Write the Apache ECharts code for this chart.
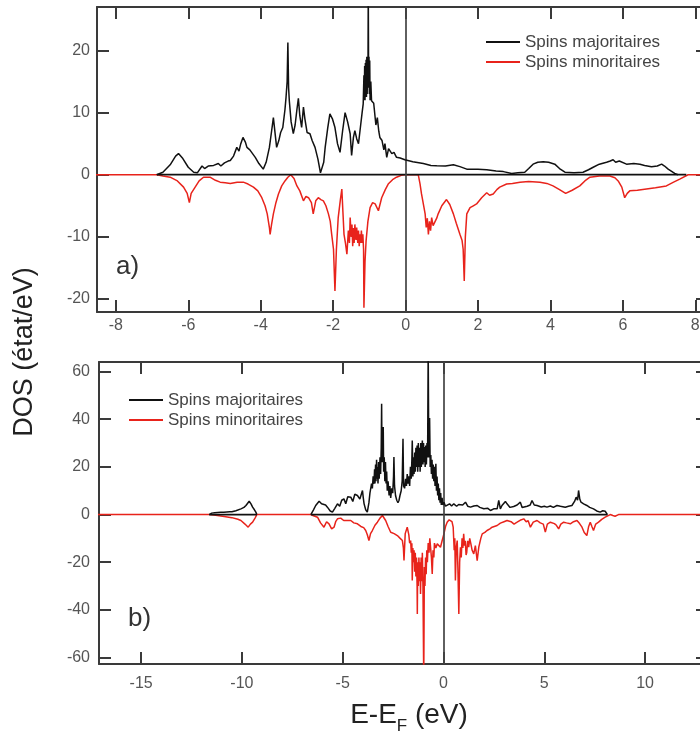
<!DOCTYPE html>
<html>
<head>
<meta charset="utf-8">
<script src="https://cdn.jsdelivr.net/npm/echarts@6/dist/echarts.min.js"></script>
<style>html,body{margin:0;padding:0;background:#fff}#c{width:700px;height:736px}</style>
</head>
<body>
<div id="c"></div>
<script>
// ---- data (energy E-EF in eV, DOS in states/eV) ----
const seriesNames = ['Spins majoritaires', 'Spins minoritaires'];
const panelLabels = ['a)', 'b)'];
const yTitle = 'DOS (état/eV)';

// panel a ticks / ranges
const xTicksA = [-8, -6, -4, -2, 0, 2, 4, 6, 8];
const yTicksA = [-20, -10, 0, 10, 20];
const xRangeA = [-8.52, 8.35];
const yRangeA = [-22.1, 27.0];
// panel b ticks / ranges
const xTicksB = [-15, -10, -5, 0, 5, 10];
const yTicksB = [-60, -40, -20, 0, 20, 40, 60];
const xRangeB = [-17.09, 13.12];
const yRangeB = [-62.7, 64.0];

// zero-level baseline of the majority curve
const baseA = [[-6.87, 7.75]];
const baseB = [[-11.62, -9.26], [-6.58, 8.13]];

const majA = [[-6.87,0],[-6.7,0.4],[-6.5,1.6],[-6.35,3.0],[-6.27,3.4],[-6.15,2.6],[-6.0,1.2],[-5.85,0.4],[-5.75,0.3],[-5.62,1.4],[-5.55,1.0],[-5.45,1.4],[-5.3,1.5],[-5.17,1.8],[-5.1,1.4],[-5.0,1.9],[-4.9,2.2],[-4.84,2.3],[-4.75,3.0],[-4.66,4.4],[-4.6,3.8],[-4.55,5.0],[-4.49,6.0],[-4.42,5.2],[-4.38,4.4],[-4.3,4.0],[-4.15,2.8],[-4.05,1.8],[-3.93,0.9],[-3.85,2.0],[-3.76,4.4],[-3.7,7.0],[-3.65,9.2],[-3.6,6.5],[-3.56,4.4],[-3.5,5.5],[-3.45,6.8],[-3.39,7.6],[-3.33,10.5],[-3.30,12.5],[-3.27,15.0],[-3.25,21.3],[-3.23,14.0],[-3.21,11.9],[-3.16,8.5],[-3.10,6.6],[-3.05,8.0],[-3.0,10.5],[-2.96,12.3],[-2.92,9.5],[-2.87,7.6],[-2.82,10.9],[-2.78,9.0],[-2.72,6.8],[-2.64,6.6],[-2.58,5.5],[-2.50,4.4],[-2.42,2.5],[-2.35,0.3],[-2.31,0.1],[-2.26,2.0],[-2.22,4.4],[-2.15,7.5],[-2.09,9.8],[-2.02,9.0],[-1.95,7.6],[-1.88,5.0],[-1.81,3.6],[-1.74,7.0],[-1.67,10.0],[-1.60,8.5],[-1.53,6.6],[-1.49,3.1],[-1.44,6.0],[-1.40,7.1],[-1.35,5.8],[-1.30,5.0],[-1.24,8.0],[-1.20,10.0],[-1.17,11.4],[-1.15,16.0],[-1.14,12.0],[-1.13,17.5],[-1.12,12.0],[-1.11,18.0],[-1.10,13.0],[-1.09,18.5],[-1.08,12.5],[-1.07,19.0],[-1.06,13.0],[-1.05,18.0],[-1.04,14.0],[-1.03,30],[-1.02,14.0],[-1.01,19.0],[-1.0,13.0],[-0.99,18.4],[-0.98,12.0],[-0.96,15.0],[-0.94,11.9],[-0.88,11.5],[-0.82,8.0],[-0.78,9.2],[-0.74,7.0],[-0.71,6.0],[-0.65,5.5],[-0.6,4.0],[-0.57,5.0],[-0.52,2.8],[-0.47,4.2],[-0.43,4.1],[-0.38,3.4],[-0.32,3.6],[-0.25,2.8],[-0.15,2.7],[-0.02,2.4],[0.2,2.1],[0.49,1.8],[0.7,1.5],[0.86,1.45],[1.1,1.4],[1.32,1.6],[1.5,1.3],[1.69,0.9],[2.0,0.9],[2.24,0.8],[2.5,0.6],[2.70,0.5],[2.93,0.2],[3.1,0.3],[3.29,0.4],[3.4,1.0],[3.52,1.7],[3.65,2.0],[3.80,2.1],[3.95,2.0],[4.12,1.7],[4.25,1.0],[4.40,0.4],[4.65,0.3],[4.90,0.4],[5.05,0.8],[5.18,1.2],[5.35,1.7],[5.55,2.0],[5.65,2.2],[5.73,2.4],[5.8,2.0],[5.9,2.2],[6.10,1.7],[6.3,1.8],[6.47,1.7],[6.6,1.5],[6.79,1.3],[6.95,1.4],[7.07,1.7],[7.15,1.4],[7.25,0.9],[7.43,0.2],[7.52,0]];

const minA = [[-8.6,0],[-6.87,0],[-6.7,-0.2],[-6.50,-0.4],[-6.3,-1.0],[-6.13,-2.0],[-6.03,-3.0],[-5.97,-4.5],[-5.92,-3.0],[-5.81,-2.0],[-5.7,-1.0],[-5.58,-0.4],[-5.40,-0.4],[-5.25,-0.9],[-5.12,-1.2],[-4.98,-1.3],[-4.84,-1.4],[-4.65,-1.2],[-4.48,-1.2],[-4.35,-1.5],[-4.20,-2.0],[-4.08,-2.6],[-3.97,-3.7],[-3.88,-5.0],[-3.82,-6.3],[-3.76,-8.5],[-3.74,-9.6],[-3.70,-8.0],[-3.65,-6.3],[-3.58,-4.5],[-3.51,-3.1],[-3.42,-1.8],[-3.33,-1.0],[-3.25,-0.4],[-3.17,0],[-3.08,-0.6],[-3.00,-1.8],[-2.92,-2.6],[-2.82,-4.2],[-2.75,-3.5],[-2.68,-3.7],[-2.60,-4.5],[-2.55,-6.3],[-2.48,-4.2],[-2.41,-3.7],[-2.34,-4.0],[-2.27,-4.2],[-2.20,-5.0],[-2.13,-6.3],[-2.08,-7.5],[-2.04,-9.6],[-1.99,-12.0],[-1.95,-18.7],[-1.91,-12.0],[-1.86,-6.9],[-1.80,-4.0],[-1.76,-2.3],[-1.73,-6.0],[-1.70,-9.6],[-1.66,-11.0],[-1.62,-12.8],[-1.58,-9.0],[-1.55,-11.0],[-1.53,-6.9],[-1.50,-10.0],[-1.48,-8.0],[-1.46,-11.5],[-1.44,-8.6],[-1.42,-11.0],[-1.40,-8.0],[-1.37,-10.5],[-1.35,-8.5],[-1.32,-11.0],[-1.30,-9.0],[-1.28,-11.5],[-1.26,-9.6],[-1.24,-11.0],[-1.22,-9.0],[-1.20,-11.0],[-1.18,-9.6],[-1.16,-12.0],[-1.15,-21.4],[-1.12,-14.0],[-1.09,-10.6],[-1.04,-7.5],[-0.98,-5.3],[-0.91,-4.5],[-0.84,-4.7],[-0.75,-5.8],[-0.66,-3.7],[-0.56,-2.4],[-0.48,-1.5],[-0.36,-0.8],[-0.25,-0.4],[-0.12,-0.1],[-0.02,0],[0.35,0],[0.40,-1.5],[0.44,-3.1],[0.50,-5.0],[0.54,-6.3],[0.57,-8.5],[0.60,-7.0],[0.63,-9.6],[0.66,-7.5],[0.69,-9.0],[0.72,-6.9],[0.76,-8.2],[0.81,-8.5],[0.86,-7.0],[0.90,-6.3],[1.0,-5.0],[1.13,-4.0],[1.22,-4.8],[1.32,-6.3],[1.40,-7.8],[1.50,-9.6],[1.56,-10.6],[1.59,-12.0],[1.62,-17.1],[1.65,-10.0],[1.69,-6.3],[1.78,-5.3],[1.87,-5.0],[1.96,-4.7],[2.10,-3.7],[2.24,-2.9],[2.32,-3.3],[2.42,-3.1],[2.52,-2.4],[2.60,-2.0],[2.79,-1.5],[2.95,-1.4],[3.16,-1.2],[3.4,-1.1],[3.71,-1.2],[3.9,-1.4],[4.07,-1.8],[4.25,-2.4],[4.42,-3.0],[4.6,-2.5],[4.81,-1.8],[4.95,-1.0],[5.09,-0.4],[5.35,-0.2],[5.64,-0.2],[5.78,-0.5],[5.87,-1.0],[5.97,-2.0],[6.05,-3.7],[6.12,-3.0],[6.19,-2.6],[6.4,-2.5],[6.65,-2.3],[6.9,-2.1],[7.20,-1.8],[7.4,-1.2],[7.57,-0.7],[7.80,0],[8.6,0]];

const majBlow = [[-11.62,0],[-11.5,0.6],[-11.45,-0.2],[-11.35,0.8],[-11.3,0],[-11.2,0.9],[-11.15,0.1],[-11.05,1.0],[-11.0,0.2],[-10.9,1.0],[-10.85,0.3],[-10.75,1.1],[-10.7,0.4],[-10.6,1.2],[-10.5,1.2],[-10.3,1.6],[-10.05,2.4],[-9.9,3.0],[-9.80,3.8],[-9.72,4.5],[-9.64,5.6],[-9.55,4.5],[-9.47,3.1],[-9.38,2.0],[-9.31,1.0],[-9.26,0]];

const majB = [[-6.58,0],[-6.45,2.0],[-6.34,3.8],[-6.17,5.6],[-6.05,4.5],[-5.96,5.2],[-5.85,4.0],[-5.76,3.1],[-5.62,1.5],[-5.51,1.0],[-5.40,2.5],[-5.26,4.5],[-5.15,3.5],[-5.05,6.0],[-4.94,6.6],[-4.85,4.5],[-4.75,7.5],[-4.60,7.3],[-4.50,5.5],[-4.40,8.5],[-4.27,8.0],[-4.15,6.5],[-4.02,10.1],[-3.98,7.0],[-3.94,4.5],[-3.86,2.0],[-3.78,1.0],[-3.70,5.0],[-3.65,9.0],[-3.61,8.7],[-3.57,13.0],[-3.53,11.0],[-3.49,16.0],[-3.45,12.9],[-3.42,19.0],[-3.40,13.0],[-3.37,21.0],[-3.35,14.0],[-3.32,23.0],[-3.30,15.0],[-3.28,19.9],[-3.25,13.0],[-3.22,22.0],[-3.19,15.0],[-3.15,24.0],[-3.12,17.0],[-3.09,28.0],[-3.07,46.5],[-3.05,22.0],[-3.02,30.0],[-2.99,36.7],[-2.97,18.0],[-2.94,24.0],[-2.91,14.0],[-2.88,22.0],[-2.85,13.0],[-2.82,18.0],[-2.79,10.0],[-2.75,14.0],[-2.70,8.0],[-2.66,12.0],[-2.62,7.0],[-2.57,11.0],[-2.52,9.0],[-2.48,16.0],[-2.46,24.1],[-2.43,12.0],[-2.38,8.0],[-2.32,6.0],[-2.26,5.0],[-2.21,5.9],[-2.16,8.0],[-2.10,10.0],[-2.05,14.0],[-2.01,31.8],[-1.98,12.0],[-1.93,11.0],[-1.88,15.0],[-1.84,12.0],[-1.80,17.0],[-1.76,13.0],[-1.72,16.0],[-1.68,12.0],[-1.64,20.0],[-1.60,15.0],[-1.57,23.0],[-1.55,31.1],[-1.52,16.0],[-1.49,24.0],[-1.46,17.0],[-1.43,26.0],[-1.40,18.0],[-1.37,28.0],[-1.34,20.0],[-1.31,29.0],[-1.28,18.0],[-1.25,30.0],[-1.22,20.0],[-1.19,28.0],[-1.16,18.0],[-1.13,30.0],[-1.10,20.0],[-1.07,28.0],[-1.05,31.1],[-1.02,21.0],[-0.99,30.0],[-0.96,22.0],[-0.94,28.3],[-0.91,20.0],[-0.88,29.0],[-0.85,21.0],[-0.82,30.0],[-0.79,24.0],[-0.76,70],[-0.73,24.0],[-0.71,28.0],[-0.69,40.5],[-0.66,20.0],[-0.63,25.0],[-0.60,17.0],[-0.57,23.0],[-0.54,15.0],[-0.51,21.0],[-0.48,14.0],[-0.45,20.0],[-0.42,12.0],[-0.38,21.3],[-0.35,10.0],[-0.32,16.0],[-0.29,8.0],[-0.26,13.0],[-0.23,6.0],[-0.20,11.0],[-0.17,5.0],[-0.14,9.0],[-0.11,4.0],[-0.07,7.0],[-0.03,4.0],[0.02,5.2],[0.10,3.5],[0.18,3.8],[0.30,4.5],[0.40,3.6],[0.51,4.5],[0.65,3.5],[0.75,4.2],[0.84,3.8],[0.95,4.0],[1.09,5.2],[1.2,3.5],[1.34,3.1],[1.5,3.6],[1.67,3.8],[1.8,3.0],[2.00,2.4],[2.2,2.6],[2.33,1.7],[2.49,2.4],[2.66,2.4],[2.74,5.9],[2.82,2.4],[2.90,3.8],[2.99,3.1],[3.07,5.5],[3.15,4.5],[3.3,3.0],[3.48,3.4],[3.65,4.0],[3.81,5.2],[3.90,3.0],[3.98,2.4],[4.15,3.5],[4.30,4.0],[4.39,5.9],[4.50,4.0],[4.64,3.8],[4.85,3.2],[5.0,3.5],[5.13,3.1],[5.3,3.6],[5.45,3.0],[5.63,3.8],[5.8,3.5],[6.04,3.1],[6.2,3.5],[6.37,3.8],[6.50,5.5],[6.58,7.3],[6.65,6.0],[6.70,10.1],[6.76,6.5],[6.82,5.2],[6.95,4.5],[7.11,3.8],[7.25,3.0],[7.44,2.4],[7.6,1.5],[7.77,1.0],[7.9,1.6],[8.02,1.4],[8.13,0]];

const minB = [[-17.2,0],[-11.62,0],[-11.3,-0.3],[-10.88,-0.8],[-10.5,-1.3],[-10.2,-2.0],[-10.05,-2.5],[-9.85,-4.0],[-9.69,-5.3],[-9.58,-4.0],[-9.47,-3.2],[-9.35,-1.5],[-9.26,0],[-6.58,0],[-6.45,-0.5],[-6.25,-1.1],[-6.1,-3.5],[-5.93,-5.3],[-5.80,-3.0],[-5.68,-3.9],[-5.55,-6.0],[-5.43,-5.3],[-5.35,-3.0],[-5.26,-1.8],[-5.1,-1.5],[-4.95,-2.5],[-4.77,-2.5],[-4.6,-2.5],[-4.45,-3.5],[-4.27,-3.9],[-4.1,-5.0],[-3.96,-5.5],[-3.86,-6.7],[-3.78,-8.5],[-3.70,-10.9],[-3.62,-8.0],[-3.53,-6.7],[-3.40,-4.5],[-3.28,-3.2],[-3.15,-1.5],[-3.03,-0.4],[-2.95,-1.0],[-2.87,-2.5],[-2.75,-5.0],[-2.62,-7.4],[-2.45,-8.0],[-2.29,-8.8],[-2.15,-10.0],[-2.04,-10.9],[-1.99,-14.0],[-1.96,-19.3],[-1.90,-8.0],[-1.80,-5.3],[-1.72,-8.5],[-1.68,-12.0],[-1.63,-10.9],[-1.60,-16.0],[-1.57,-12.0],[-1.55,-27.7],[-1.52,-14.0],[-1.49,-20.0],[-1.46,-15.0],[-1.43,-24.0],[-1.40,-16.0],[-1.37,-26.0],[-1.34,-18.0],[-1.31,-30.0],[-1.30,-41.7],[-1.28,-20.0],[-1.25,-30.0],[-1.22,-18.0],[-1.19,-28.0],[-1.16,-20.0],[-1.14,-33.3],[-1.11,-18.0],[-1.08,-28.0],[-1.05,-16.0],[-1.02,-30.0],[-0.98,-70],[-0.95,-22.0],[-0.92,-30.0],[-0.89,-18.0],[-0.86,-25.0],[-0.83,-15.0],[-0.80,-20.0],[-0.76,-12.0],[-0.72,-16.0],[-0.68,-10.0],[-0.64,-14.0],[-0.60,-18.0],[-0.56,-24.9],[-0.52,-15.0],[-0.48,-18.0],[-0.45,-12.0],[-0.38,-14.0],[-0.31,-12.3],[-0.22,-12.8],[-0.15,-13.7],[-0.07,-11.0],[0.02,-8.1],[0.10,-5.0],[0.18,-3.2],[0.28,-2.2],[0.35,-1.8],[0.42,-3.0],[0.48,-5.3],[0.53,-15.0],[0.56,-10.0],[0.59,-27.7],[0.63,-14.0],[0.68,-10.9],[0.72,-25.0],[0.76,-41.7],[0.80,-20.0],[0.84,-13.7],[0.88,-18.0],[0.92,-10.0],[0.96,-14.0],[1.00,-8.1],[1.04,-13.0],[1.08,-11.0],[1.12,-17.0],[1.15,-16.0],[1.20,-11.0],[1.25,-13.7],[1.30,-10.0],[1.35,-12.0],[1.42,-15.0],[1.50,-16.5],[1.58,-13.0],[1.67,-19.3],[1.75,-13.7],[1.85,-10.0],[1.92,-8.1],[2.05,-7.5],[2.16,-6.7],[2.30,-6.0],[2.41,-5.3],[2.49,-5.3],[2.66,-4.6],[2.82,-3.6],[3.0,-3.0],[3.15,-2.5],[3.35,-3.0],[3.5,-4.0],[3.65,-3.2],[3.80,-2.4],[3.98,-1.8],[4.1,-3.0],[4.2,-2.6],[4.31,-5.3],[4.45,-3.2],[4.64,-2.5],[4.8,-3.5],[4.95,-4.0],[5.05,-7.4],[5.15,-4.0],[5.30,-3.2],[5.5,-3.8],[5.6,-4.5],[5.71,-6.0],[5.82,-4.0],[5.96,-3.2],[6.1,-3.5],[6.29,-3.9],[6.45,-3.0],[6.62,-2.5],[6.75,-3.8],[6.87,-5.3],[6.98,-7.5],[7.05,-8.0],[7.11,-8.8],[7.20,-5.0],[7.28,-3.2],[7.36,-5.0],[7.44,-6.7],[7.55,-4.0],[7.69,-3.2],[7.85,-2.0],[8.02,-1.1],[8.27,0],[8.40,-0.4],[8.51,-0.7],[8.60,-0.3],[8.68,0],[13.3,0]];

// ---- chart ----
const FONT = 'Liberation Sans, Arial, sans-serif';
const BLACK = '#111111';
const RED = '#e8231b';
const AXIS = '#3a3a3a';

function makeAxis(grid, range, ticks, pos, labels, margin) {
  return {
    type: 'value', gridIndex: grid, position: pos, min: range[0], max: range[1],
    splitLine: {show: false},
    axisLine: {show: true, onZero: false, lineStyle: {color: AXIS, width: 2}},
    axisTick: {show: true, inside: true, length: 12, customValues: ticks, lineStyle: {color: AXIS, width: 2}},
    axisLabel: {show: labels, customValues: ticks, margin: margin, fontSize: 16, color: '#555', fontFamily: FONT}
  };
}
function lineSeries(name, data, color, xi, yi, z) {
  return {
    type: 'line', name: name, data: data, xAxisIndex: xi, yAxisIndex: yi,
    showSymbol: false, symbol: 'none', z: z, clip: true, silent: true,
    lineStyle: {color: color, width: 1.5}, itemStyle: {color: color}
  };
}
function baseSeries(segs, xi, yi) {
  const out = [];
  segs.forEach(function (s, i) {
    const ser = lineSeries('', [[s[0], 0], [s[1], 0]], BLACK, xi, yi, 4);
    ser.lineStyle.width = 1.7;
    if (i === 0) {
      ser.markLine = {
        silent: true, symbol: 'none', label: {show: false}, animation: false,
        lineStyle: {color: '#444', width: 1.7, type: 'solid'},
        data: [{xAxis: 0}]
      };
    }
    out.push(ser);
  });
  return out;
}

const chart = echarts.init(document.getElementById('c'), null, {renderer: 'canvas'});
const legendCommon = {
  orient: 'vertical', icon: 'rect', itemWidth: 34, itemHeight: 2, itemGap: 2,
  selectedMode: false, data: seriesNames,
  textStyle: {fontSize: 17, lineHeight: 18, color: '#444', fontFamily: FONT}
};
chart.setOption({
  animation: false,
  backgroundColor: '#fff',
  grid: [
    {left: 97, width: 611, top: 7, height: 305, containLabel: false, outerBoundsMode: 'none'},
    {left: 99, width: 609, top: 362, height: 302, containLabel: false, outerBoundsMode: 'none'}
  ],
  xAxis: [
    makeAxis(0, xRangeA, xTicksA, 'bottom', true, 6),
    makeAxis(0, xRangeA, xTicksA, 'top', false, 6),
    makeAxis(1, xRangeB, xTicksB, 'bottom', true, 12),
    makeAxis(1, xRangeB, xTicksB, 'top', false, 12)
  ],
  yAxis: [
    makeAxis(0, yRangeA, yTicksA, 'left', true, 7),
    makeAxis(0, yRangeA, yTicksA, 'right', false, 7),
    makeAxis(1, yRangeB, yTicksB, 'left', true, 9),
    makeAxis(1, yRangeB, yTicksB, 'right', false, 9)
  ],
  legend: [
    Object.assign({left: 481, top: 28}, legendCommon),
    Object.assign({left: 124, top: 386}, legendCommon)
  ],
  title: [
    {text: panelLabels[0], left: 116, top: 254, padding: 0, textStyle: {fontSize: 26, fontWeight: 'normal', color: '#333', fontFamily: FONT}},
    {text: panelLabels[1], left: 128, top: 606, padding: 0, textStyle: {fontSize: 26, fontWeight: 'normal', color: '#333', fontFamily: FONT}}
  ],
  graphic: [
    {type: 'text', x: 25, y: 352, rotation: Math.PI / 2,
     style: {text: yTitle, fontSize: 27, fontFamily: FONT, fill: '#222', textAlign: 'center', textVerticalAlign: 'middle'}},
    {type: 'text', x: 409, y: 716,
     style: {text: '{a|E-E}{s|F}{a| (eV)}', textAlign: 'center', textVerticalAlign: 'middle', fill: '#222',
       rich: {a: {fontSize: 28, fontFamily: FONT, fill: '#222', lineHeight: 30, verticalAlign: 'top'},
              s: {fontSize: 17, fontFamily: FONT, fill: '#222', lineHeight: 30, verticalAlign: 'top', padding: [17, 0, 0, 0]}}}}
  ],
  series: [
    lineSeries(seriesNames[1], minA, RED, 0, 0, 2),
    ...baseSeries(baseA, 0, 0),
    lineSeries(seriesNames[0], majA, BLACK, 0, 0, 5),
    lineSeries(seriesNames[1], minB, RED, 2, 2, 2),
    ...baseSeries(baseB, 2, 2),
    lineSeries(seriesNames[0], majBlow, BLACK, 2, 2, 5),
    lineSeries(seriesNames[0], majB, BLACK, 2, 2, 5)
  ]
});
</script>
</body>
</html>
